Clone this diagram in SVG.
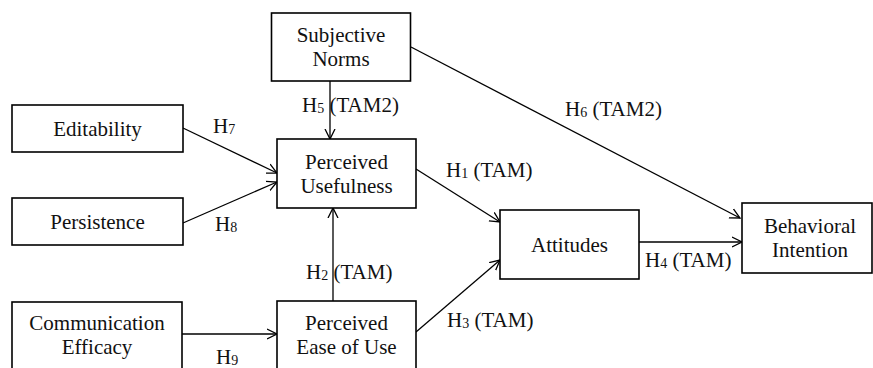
<svg xmlns="http://www.w3.org/2000/svg" width="873" height="368" viewBox="0 0 873 368">
<style>
.box{fill:#fff;stroke:#000;stroke-width:1.6}
text{font-family:'Liberation Serif',Tinos,'Times New Roman','DejaVu Serif',serif;font-size:21px;fill:#111}
.t{text-anchor:middle}
.s{font-size:14px}
.c{stroke:#000;stroke-width:1.3;fill:none;marker-end:url(#arr)}
</style>
<defs>
<marker id="arr" markerUnits="userSpaceOnUse" markerWidth="12" markerHeight="12" refX="10" refY="5" orient="auto" viewBox="0 0 12 10">
<path d="M0,0 L10,5 L0,10" fill="none" stroke="#000" stroke-width="1.3"/>
</marker>
</defs>
<rect width="873" height="368" fill="#fff"/>
<g id="connectors">
<line class="c" x1="330" y1="81" x2="330" y2="139"/>
<line class="c" x1="183" y1="128" x2="277" y2="173"/>
<line class="c" x1="183" y1="223" x2="277" y2="182"/>
<line class="c" x1="182" y1="334" x2="277" y2="334"/>
<line class="c" x1="333" y1="301" x2="333" y2="208"/>
<line class="c" x1="416" y1="169" x2="500" y2="222"/>
<line class="c" x1="416" y1="332" x2="500" y2="260"/>
<line class="c" x1="639" y1="242" x2="742" y2="242"/>
<line class="c" x1="411" y1="47" x2="740" y2="218"/>
</g>
<g id="subjective-norms">
<rect class="box" x="271.5" y="13" width="139" height="68"/>
<text class="t" x="341" y="42">Subjective</text>
<text class="t" x="341" y="66">Norms</text>
</g>
<g id="editability">
<rect class="box" x="12" y="105" width="171" height="47"/>
<text class="t" x="97.5" y="136">Editability</text>
</g>
<g id="persistence">
<rect class="box" x="12" y="198" width="171" height="47"/>
<text class="t" x="97.5" y="229">Persistence</text>
</g>
<g id="communication-efficacy">
<rect class="box" x="12" y="302" width="170" height="70"/>
<text class="t" x="97" y="330">Communication</text>
<text class="t" x="97" y="354">Efficacy</text>
</g>
<g id="perceived-usefulness">
<rect class="box" x="277" y="139" width="139" height="69"/>
<text class="t" x="346.5" y="169">Perceived</text>
<text class="t" x="346.5" y="193">Usefulness</text>
</g>
<g id="perceived-ease-of-use">
<rect class="box" x="277" y="301" width="139" height="71"/>
<text class="t" x="346.5" y="330">Perceived</text>
<text class="t" x="346.5" y="354">Ease of Use</text>
</g>
<g id="attitudes">
<rect class="box" x="500" y="210" width="139" height="69"/>
<text class="t" x="569.5" y="252">Attitudes</text>
</g>
<g id="behavioral-intention">
<rect class="box" x="742" y="203" width="130" height="70"/>
<text class="t" x="810" y="233">Behavioral</text>
<text class="t" x="810" y="257">Intention</text>
</g>
<g id="labels">
<text x="302" y="112">H<tspan class="s" dy="1">5</tspan><tspan dy="-1"> (TAM2)</tspan></text>
<text x="213" y="133">H<tspan class="s" dy="1">7</tspan></text>
<text x="565" y="116">H<tspan class="s" dy="1">6</tspan><tspan dy="-1"> (TAM2)</tspan></text>
<text x="446" y="177">H<tspan class="s" dy="1">1</tspan><tspan dy="-1"> (TAM)</tspan></text>
<text x="215" y="231">H<tspan class="s" dy="1">8</tspan></text>
<text x="306" y="279">H<tspan class="s" dy="1">2</tspan><tspan dy="-1"> (TAM)</tspan></text>
<text x="216" y="364">H<tspan class="s" dy="1">9</tspan></text>
<text x="447" y="327">H<tspan class="s" dy="1">3</tspan><tspan dy="-1"> (TAM)</tspan></text>
<text x="645" y="267">H<tspan class="s" dy="1">4</tspan><tspan dy="-1"> (TAM)</tspan></text>
</g>
</svg>
